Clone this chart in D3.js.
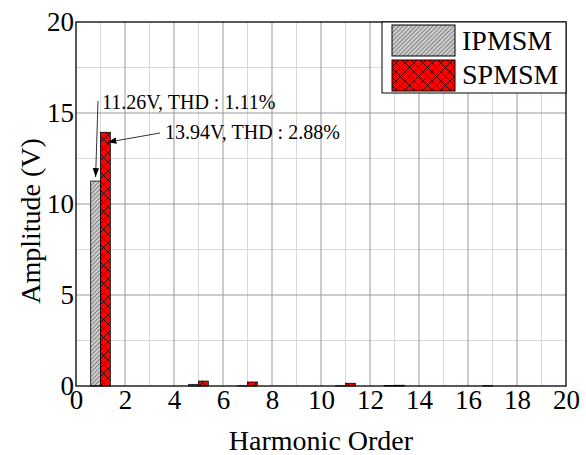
<!DOCTYPE html>
<html>
<head>
<meta charset="utf-8">
<script src="https://cdn.jsdelivr.net/npm/d3@7"></script>
<style>
  body { margin: 0; background: #fff; }
  svg { font-family: "Liberation Serif", "Times New Roman", serif; }
</style>
</head>
<body>
<svg id="chart" width="586" height="455"></svg>
<script>
// harmonic spectrum values
const harmonics = [1, 5, 7, 11, 13, 17];
const ipmsm = [11.26, 0.09, 0.01, 0.01, 0.03, 0.02];
const spmsm = [13.94, 0.27, 0.22, 0.15, 0.04, 0.0];
const seriesNames = ["IPMSM", "SPMSM"];
const xTicks = d3.range(0, 21, 2);
const yTicks = [0, 5, 10, 15, 20];

const svg = d3.select("#chart");
const margin = { left: 76, right: 20, top: 22, bottom: 69 };
const width = 586, height = 455;

const x = d3.scaleLinear().domain([0, 20]).range([margin.left, width - margin.right]);
const y = d3.scaleLinear().domain([0, 20]).range([height - margin.bottom, margin.top]);

// patterns
const defs = svg.append("defs");
const hatch = defs.append("pattern")
    .attr("id", "hatch")
    .attr("patternUnits", "userSpaceOnUse")
    .attr("width", 3).attr("height", 3)
    .attr("patternTransform", "rotate(45)");
hatch.append("rect").attr("width", 3).attr("height", 3).attr("fill", "#cfcfcf");
hatch.append("line").attr("x1", 0).attr("y1", 0).attr("x2", 0).attr("y2", 3)
    .attr("stroke", "#333").attr("stroke-width", 1);

const cross = defs.append("pattern")
    .attr("id", "cross")
    .attr("patternUnits", "userSpaceOnUse")
    .attr("width", 9).attr("height", 9);
cross.append("rect").attr("width", 9).attr("height", 9).attr("fill", "#ff0000");
cross.append("path").attr("d", "M0,0L9,9M9,0L0,9")
    .attr("stroke", "#200").attr("stroke-width", 0.9);

// grid
const minorX = d3.range(1, 20, 2);
const minorY = d3.range(2.5, 20, 5);
const grid = svg.append("g");
grid.selectAll(".mx").data(minorX).join("line")
    .attr("x1", d => x(d)).attr("x2", d => x(d))
    .attr("y1", y(0)).attr("y2", y(20))
    .attr("stroke", "#d9d9d9").attr("stroke-width", 1);
grid.selectAll(".my").data(minorY).join("line")
    .attr("y1", d => y(d)).attr("y2", d => y(d))
    .attr("x1", x(0)).attr("x2", x(20))
    .attr("stroke", "#d9d9d9").attr("stroke-width", 1);
grid.selectAll(".gx").data(xTicks.slice(1, -1)).join("line")
    .attr("x1", d => x(d)).attr("x2", d => x(d))
    .attr("y1", y(0)).attr("y2", y(20))
    .attr("stroke", "#999").attr("stroke-width", 1);
grid.selectAll(".gy").data(yTicks.slice(1, -1)).join("line")
    .attr("y1", d => y(d)).attr("y2", d => y(d))
    .attr("x1", x(0)).attr("x2", x(20))
    .attr("stroke", "#999").attr("stroke-width", 1);

// bars
const bw = 0.4;
const data = harmonics.map((h, i) => ({ h, a: ipmsm[i], b: spmsm[i] }));
svg.append("g").selectAll("rect").data(data.filter(d => d.a > 0)).join("rect")
    .attr("x", d => x(d.h - bw))
    .attr("width", x(bw) - x(0))
    .attr("y", d => y(d.a))
    .attr("height", d => y(0) - y(d.a))
    .attr("fill", "url(#hatch)")
    .attr("stroke", "#000").attr("stroke-width", 0.8);
svg.append("g").selectAll("rect").data(data.filter(d => d.b > 0)).join("rect")
    .attr("x", d => x(d.h))
    .attr("width", x(bw) - x(0))
    .attr("y", d => y(d.b))
    .attr("height", d => y(0) - y(d.b))
    .attr("fill", "url(#cross)")
    .attr("stroke", "#000").attr("stroke-width", 0.8);

// frame
svg.append("rect")
    .attr("x", x(0)).attr("y", y(20))
    .attr("width", x(20) - x(0)).attr("height", y(0) - y(20))
    .attr("fill", "none").attr("stroke", "#000").attr("stroke-width", 1.3);

// axes
const xAxis = svg.append("g")
    .attr("transform", `translate(0,${y(0)})`)
    .call(d3.axisBottom(x).tickValues(xTicks).tickSize(0).tickPadding(4));
xAxis.select(".domain").remove();
xAxis.attr("font-family", null);
xAxis.selectAll("text").attr("font-size", 27).attr("fill", "#000");

const yAxis = svg.append("g")
    .attr("transform", `translate(${x(0)},0)`)
    .call(d3.axisLeft(y).tickValues(yTicks).tickSize(0).tickPadding(2));
yAxis.select(".domain").remove();
yAxis.attr("font-family", null);
yAxis.selectAll("text").attr("font-size", 27).attr("fill", "#000");

svg.append("text")
    .attr("x", (x(0) + x(20)) / 2).attr("y", 450)
    .attr("text-anchor", "middle").attr("font-size", 28)
    .text("Harmonic Order");
svg.append("text")
    .attr("transform", `translate(40,221) rotate(-90)`)
    .attr("text-anchor", "middle").attr("font-size", 28)
    .text("Amplitude (V)");

// annotations
svg.append("defs").append("marker")
    .attr("id", "arrow").attr("viewBox", "0 0 10 10")
    .attr("refX", 10).attr("refY", 5)
    .attr("markerWidth", 9).attr("markerHeight", 9)
    .attr("markerUnits", "userSpaceOnUse")
    .attr("orient", "auto")
    .append("path").attr("d", "M0,1.5L10,5L0,8.5Z").attr("fill", "#000");

const notes = [
  { text: `${ipmsm[0]}V, THD : 1.11%`, tx: 102, ty: 109, x1: 98, y1: 101, x2: x(1 - bw / 2), y2: y(ipmsm[0]) - 4 },
  { text: `${spmsm[0]}V, THD : 2.88%`, tx: 165, ty: 139, x1: 160, y1: 133, x2: x(1 + bw / 2) + 2, y2: y(spmsm[0]) + 10 }
];
notes.forEach(n => {
  svg.append("line")
      .attr("x1", n.x1).attr("y1", n.y1).attr("x2", n.x2).attr("y2", n.y2)
      .attr("stroke", "#000").attr("stroke-width", 0.8)
      .attr("marker-end", "url(#arrow)");
  svg.append("text").attr("x", n.tx).attr("y", n.ty)
      .attr("font-size", 20).text(n.text);
});

// legend
const lg = svg.append("g");
lg.append("rect")
    .attr("x", 382).attr("y", y(20))
    .attr("width", x(20) - 382).attr("height", 71)
    .attr("fill", "#fff").attr("stroke", "#000").attr("stroke-width", 1);
seriesNames.forEach((name, i) => {
  lg.append("rect")
      .attr("x", 392).attr("y", 25 + i * 35)
      .attr("width", 63).attr("height", 31)
      .attr("fill", i === 0 ? "url(#hatch)" : "url(#cross)")
      .attr("stroke", "#000").attr("stroke-width", 1);
  lg.append("text")
      .attr("x", 462).attr("y", 50 + i * 34)
      .attr("font-size", 28).text(name);
});
</script>
</body>
</html>
